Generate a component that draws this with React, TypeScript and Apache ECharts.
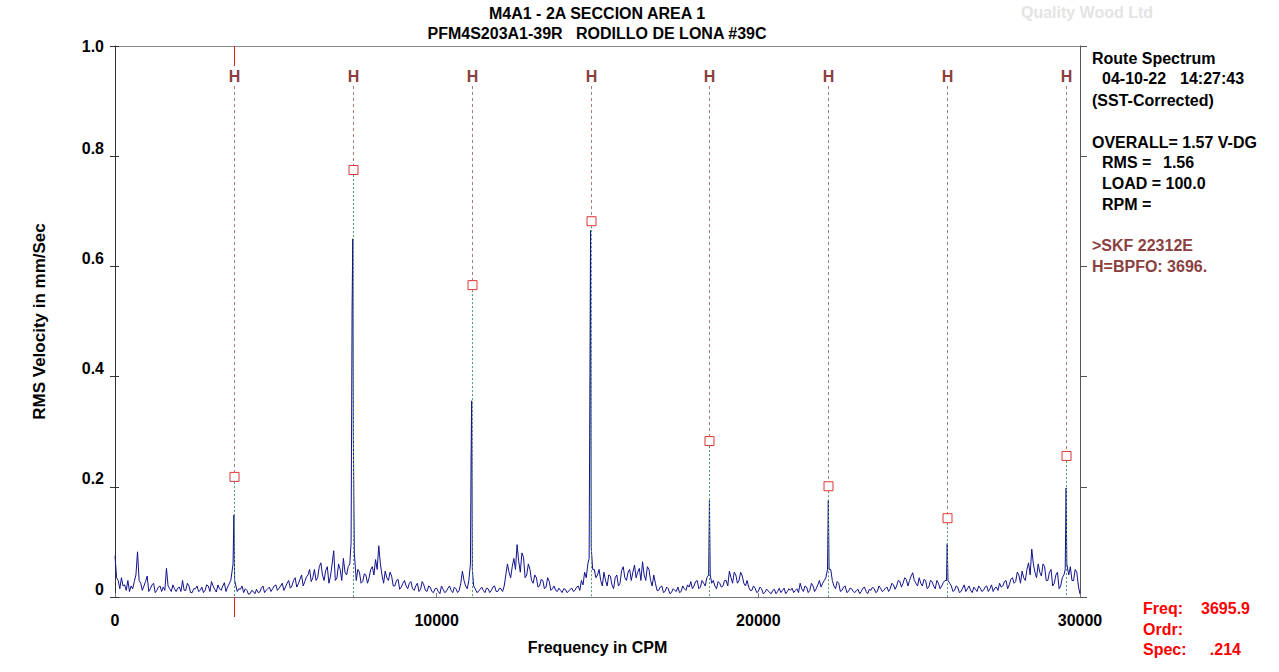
import React, { useEffect, useRef } from "react";
import * as echarts from "echarts";

// ---- data ----
const FREQ_STEP = 100; // CPM between base spectrum samples
// samples at 0, 100, 200 ... 30000 CPM
const baseSpectrum: number[] = [
  0.075, 0.03, 0.035, 0.022, 0.03, 0.02, 0.028, 0.082, 0.025, 0.02,
  0.038, 0.015, 0.025, 0.012, 0.02, 0.018, 0.052, 0.015, 0.022, 0.01,
  0.018, 0.03, 0.012, 0.02, 0.008, 0.015, 0.01, 0.018, 0.012, 0.02,
  0.028, 0.014, 0.022, 0.012, 0.026, 0.018, 0.03, 0.02, 0.01, 0.014,
  0.008, 0.012, 0.006, 0.01, 0.014, 0.009, 0.02, 0.012, 0.018, 0.015,
  0.022, 0.016, 0.025, 0.018, 0.03, 0.02, 0.035, 0.024, 0.04, 0.028,
  0.04, 0.028, 0.05, 0.035, 0.062, 0.03, 0.055, 0.038, 0.084, 0.035,
  0.05, 0.07, 0.04, 0.06, 0.05, 0.03, 0.045, 0.028, 0.04, 0.035,
  0.055, 0.068, 0.093, 0.04, 0.047, 0.03, 0.038, 0.02, 0.032, 0.018,
  0.03, 0.015, 0.028, 0.012, 0.025, 0.014, 0.022, 0.01, 0.018, 0.008,
  0.016, 0.006, 0.014, 0.01, 0.02, 0.008, 0.015, 0.012, 0.047, 0.02,
  0.03, 0.04, 0.015, 0.01, 0.018, 0.008, 0.015, 0.012, 0.02, 0.01,
  0.015, 0.02, 0.06, 0.035, 0.07, 0.095, 0.045, 0.072, 0.04, 0.05,
  0.025, 0.035, 0.02, 0.03, 0.018, 0.028, 0.015, 0.012, 0.016, 0.008,
  0.014, 0.01, 0.016, 0.012, 0.02, 0.03, 0.045, 0.06, 0.06, 0.05,
  0.04, 0.03, 0.045, 0.02, 0.038, 0.015, 0.04, 0.025, 0.055, 0.03,
  0.05, 0.045, 0.035, 0.052, 0.064, 0.03, 0.05, 0.02, 0.025, 0.012,
  0.02, 0.01, 0.015, 0.008, 0.012, 0.018, 0.01, 0.015, 0.022, 0.028,
  0.02, 0.03, 0.018, 0.025, 0.035, 0.03, 0.03, 0.015, 0.025, 0.02,
  0.03, 0.047, 0.025, 0.04, 0.03, 0.038, 0.02, 0.018, 0.012, 0.016,
  0.01, 0.015, 0.008, 0.012, 0.006, 0.014, 0.01, 0.008, 0.016, 0.01,
  0.012, 0.008, 0.015, 0.025, 0.01, 0.018, 0.012, 0.02, 0.015, 0.03,
  0.025, 0.035, 0.04, 0.03, 0.015, 0.025, 0.012, 0.02, 0.01, 0.015,
  0.008, 0.014, 0.01, 0.018, 0.006, 0.012, 0.015, 0.01, 0.016, 0.012,
  0.018, 0.015, 0.022, 0.02, 0.028, 0.025, 0.032, 0.03, 0.044, 0.025,
  0.035, 0.02, 0.03, 0.018, 0.028, 0.015, 0.025, 0.02, 0.03, 0.03,
  0.02, 0.012, 0.018, 0.01, 0.022, 0.015, 0.012, 0.018, 0.01, 0.016,
  0.012, 0.02, 0.015, 0.01, 0.018, 0.025, 0.02, 0.03, 0.022, 0.035,
  0.028, 0.04, 0.047, 0.03, 0.062, 0.087, 0.045, 0.06, 0.038, 0.055,
  0.03, 0.05, 0.025, 0.045, 0.02, 0.04, 0.06, 0.055, 0.03, 0.045,
  0.005,
];
// samples at 50, 150, 250 ... 29950 CPM
const midSpectrum: number[] = [
  0.035, 0.015, 0.02, 0.012, 0.01, 0.015, 0.04, 0.03, 0.012, 0.028,
  0.01, 0.022, 0.008, 0.018, 0.01, 0.012, 0.02, 0.01, 0.015, 0.016,
  0.01, 0.012, 0.025, 0.008, 0.015, 0.02, 0.012, 0.008, 0.022, 0.01,
  0.02, 0.009, 0.015, 0.02, 0.01, 0.024, 0.015, 0.04, 0.015, 0.02,
  0.015, 0.005, 0.012, 0.006, 0.008, 0.016, 0.008, 0.015, 0.01, 0.02,
  0.012, 0.02, 0.012, 0.025, 0.016, 0.03, 0.018, 0.032, 0.02, 0.036,
  0.05, 0.035, 0.03, 0.055, 0.04, 0.048, 0.025, 0.06, 0.03, 0.06,
  0.03, 0.045, 0.055, 0.035, 0.045, 0.05, 0.025, 0.042, 0.025, 0.05,
  0.04, 0.05, 0.06, 0.025, 0.035, 0.045, 0.02, 0.03, 0.014, 0.025,
  0.02, 0.025, 0.015, 0.02, 0.01, 0.028, 0.012, 0.02, 0.01, 0.015,
  0.01, 0.02, 0.008, 0.016, 0.012, 0.018, 0.008, 0.025, 0.03, 0.015,
  0.05, 0.02, 0.008, 0.014, 0.012, 0.016, 0.008, 0.018, 0.01, 0.016,
  0.01, 0.04, 0.045, 0.055, 0.05, 0.065, 0.08, 0.035, 0.06, 0.03,
  0.04, 0.018, 0.032, 0.015, 0.035, 0.012, 0.02, 0.01, 0.012, 0.015,
  0.008, 0.014, 0.01, 0.018, 0.012, 0.022, 0.035, 0.05, 0.05, 0.035,
  0.05, 0.02, 0.03, 0.04, 0.022, 0.035, 0.02, 0.048, 0.035, 0.045,
  0.03, 0.058, 0.045, 0.03, 0.04, 0.055, 0.03, 0.04, 0.012, 0.018,
  0.008, 0.018, 0.006, 0.015, 0.01, 0.008, 0.02, 0.012, 0.018, 0.015,
  0.028, 0.015, 0.03, 0.02, 0.03, 0.025, 0.02, 0.028, 0.018, 0.03,
  0.02, 0.035, 0.045, 0.025, 0.045, 0.025, 0.03, 0.012, 0.02, 0.008,
  0.018, 0.006, 0.014, 0.008, 0.012, 0.006, 0.016, 0.012, 0.006, 0.015,
  0.016, 0.012, 0.008, 0.015, 0.02, 0.008, 0.025, 0.01, 0.022, 0.018,
  0.03, 0.04, 0.05, 0.02, 0.028, 0.01, 0.018, 0.008, 0.016, 0.01,
  0.012, 0.006, 0.016, 0.01, 0.014, 0.018, 0.008, 0.02, 0.01, 0.016,
  0.01, 0.025, 0.014, 0.03, 0.018, 0.035, 0.02, 0.038, 0.03, 0.02,
  0.025, 0.032, 0.015, 0.03, 0.02, 0.03, 0.015, 0.026, 0.03, 0.025,
  0.01, 0.02, 0.008, 0.016, 0.01, 0.02, 0.008, 0.014, 0.02, 0.01,
  0.018, 0.01, 0.022, 0.016, 0.012, 0.018, 0.028, 0.015, 0.032, 0.025,
  0.045, 0.025, 0.035, 0.05, 0.04, 0.06, 0.035, 0.045, 0.06, 0.03,
  0.045, 0.02, 0.04, 0.015, 0.035, 0.05, 0.04, 0.03, 0.05, 0.02,
];

const peakFreqs: number[] = [
  3670, 3696, 3720,
  7340, 7370, 7392, 7410, 7440,
  11050, 11070, 11088, 11110,
  14740, 14765, 14784, 14805,
  18455, 18480, 18505,
  22150, 22176, 22200,
  25850, 25872, 25895,
  29540, 29568, 29590,
];
const peakAmps: number[] = [
  0.06, 0.149, 0.03,
  0.1, 0.52, 0.65, 0.29, 0.08,
  0.06, 0.256, 0.356, 0.05,
  0.07, 0.407, 0.665, 0.09,
  0.04, 0.175, 0.04,
  0.05, 0.175, 0.05,
  0.03, 0.097, 0.03,
  0.05, 0.198, 0.06,
];

const harmonicFreqs: number[] = [3696, 7392, 11088, 14784, 18480, 22176, 25872, 29568];
const harmonicMarks: number[] = [0.218, 0.775, 0.566, 0.682, 0.283, 0.201, 0.143, 0.256];

const yTicks: string[] = ["0", "0.2", "0.4", "0.6", "0.8", "1.0"];

const FONT = '"Liberation Sans", Arial, sans-serif';

function buildSpectrum(): [number, number][] {
  const pts: [number, number][] = [];
  const add = (f: number, v: number) => {
    if (peakFreqs.some((p) => Math.abs(p - f) < 35)) return;
    pts.push([f, v]);
  };
  baseSpectrum.forEach((v, i) => add(i * FREQ_STEP, v));
  midSpectrum.forEach((v, i) => add(i * FREQ_STEP + FREQ_STEP / 2, v));
  peakFreqs.forEach((f, i) => pts.push([f, peakAmps[i]]));
  pts.sort((a, b) => a[0] - b[0]);
  return pts;
}

function txt(text: string, x: number, y: number, opts: any = {}) {
  const align = opts.align || "left";
  return {
    type: "text",
    x,
    y,
    silent: true,
    style: {
      text,
      fill: opts.fill || "#000",
      font: `bold ${opts.size || 16}px ${FONT}`,
      textAlign: align,
      align,
      textVerticalAlign: "middle",
      verticalAlign: "middle",
    },
  };
}

export default function App() {
  const ref = useRef<HTMLDivElement>(null);
  useEffect(() => {
    if (!ref.current) return;
    const chart = echarts.init(ref.current, null, { renderer: "svg" });
    const spectrum = buildSpectrum();
    const harm = harmonicFreqs.map((f, i) => [f, harmonicMarks[i]]);
    const brown = "#8B3F3F";

    const yLabelFmt = (v: number) => {
      const idx = Math.round(v * 5);
      const s = yTicks[idx];
      return idx === 5 ? `{t|${s}}` : `{s|${s}}`;
    };

    const option: any = {
      animation: false,
      backgroundColor: "#fff",
      grid: { left: 115, right: 199, top: 46, bottom: 75 },
      xAxis: [
        {
          type: "value",
          min: 0,
          max: 30000,
          interval: 10000,
          name: "Frequency in CPM",
          nameLocation: "middle",
          nameGap: 42,
          nameTextStyle: { fontFamily: FONT, fontWeight: "bold", fontSize: 16, color: "#000" },
          axisLine: { show: true, onZero: false, lineStyle: { color: "#777", width: 1 } },
          axisTick: { show: true, inside: true, length: 4, lineStyle: { color: "#777" } },
          axisLabel: {
            margin: 15,
            fontFamily: FONT,
            fontWeight: "bold",
            fontSize: 16,
            color: "#000",
            formatter: (v: number) => String(v),
          },
          splitLine: { show: false },
        },
        {
          type: "value",
          position: "top",
          min: 0,
          max: 30000,
          interval: 10000,
          axisLine: { show: true, onZero: false, lineStyle: { color: "#888", width: 1 } },
          axisTick: { show: false },
          axisLabel: { show: false },
          splitLine: { show: false },
        },
      ],
      yAxis: [
        {
          type: "value",
          min: 0,
          max: 1,
          interval: 0.2,
          name: "RMS Velocity in mm/Sec",
          nameLocation: "middle",
          nameGap: 67,
          nameRotate: 90,
          nameTextStyle: { fontFamily: FONT, fontWeight: "bold", fontSize: 17, color: "#000" },
          axisLine: { show: true, onZero: false, lineStyle: { color: "#333", width: 1 } },
          axisTick: { show: true, length: 5, lineStyle: { color: "#333" } },
          axisLabel: {
            margin: 11,
            formatter: yLabelFmt,
            rich: {
              t: { fontFamily: FONT, fontWeight: "bold", fontSize: 16, color: "#000" },
              s: { fontFamily: FONT, fontWeight: "bold", fontSize: 16, color: "#000", padding: [0, 0, 16, 0] },
            },
          },
          splitLine: { show: false },
        },
        {
          type: "value",
          position: "right",
          min: 0,
          max: 1,
          interval: 0.2,
          axisLine: { show: true, onZero: false, lineStyle: { color: "#555", width: 1 } },
          axisTick: { show: true, length: 7, lineStyle: { color: "#555" } },
          axisLabel: { show: false },
          splitLine: { show: false },
        },
        {
          type: "value",
          position: "left",
          min: 0,
          max: 1,
          interval: 0.2,
          axisLine: { show: false },
          axisTick: { show: true, inside: true, length: 4, lineStyle: { color: "#333" } },
          axisLabel: { show: false },
          splitLine: { show: false },
        },
      ],
      series: [
        {
          type: "line",
          data: spectrum,
          symbol: "none",
          lineStyle: { color: "#12128C", width: 1 },
          z: 2,
        },
        {
          type: "custom",
          data: harm,
          clip: false,
          z: 3,
          renderItem: (params: any, api: any) => {
            const f = api.value(0);
            const a = api.value(1);
            const top = api.coord([f, 1]);
            const sq = api.coord([f, a]);
            const base = api.coord([f, 0]);
            const x = Math.round(top[0]) + 0.5;
            const children: any[] = [
              {
                type: "text",
                x,
                y: top[1] + 30,
                style: {
                  text: "H",
                  fill: brown,
                  font: `bold 16px ${FONT}`,
                  align: "center",
                  verticalAlign: "middle",
                },
              },
              {
                type: "line",
                shape: { x1: x, y1: top[1] + 40, x2: x, y2: sq[1] - 5 },
                style: { stroke: "#A87A7A", lineWidth: 1, lineDash: [3, 3] },
              },
              {
                type: "line",
                shape: { x1: x, y1: sq[1] + 5, x2: x, y2: base[1] },
                style: { stroke: "#4E9A72", lineWidth: 1, lineDash: [2, 2] },
              },
              {
                type: "rect",
                shape: { x: x - 4.5, y: sq[1] - 4.5, width: 9, height: 9 },
                style: { fill: "rgba(255,255,255,0)", stroke: "#E23434", lineWidth: 1 },
              },
            ];
            if (params.dataIndex === 0) {
              children.push(
                {
                  type: "line",
                  shape: { x1: x, y1: top[1], x2: x, y2: top[1] + 20 },
                  style: { stroke: "#E02020", lineWidth: 1 },
                },
                {
                  type: "line",
                  shape: { x1: x, y1: base[1], x2: x, y2: base[1] + 20 },
                  style: { stroke: "#E02020", lineWidth: 1 },
                }
              );
            }
            return { type: "group", children };
          },
        },
      ],
      graphic: [
        txt("M4A1 - 2A SECCION AREA 1", 597, 13, { align: "center", size: 16 }),
        txt("PFM4S203A1-39R   RODILLO DE LONA #39C", 597, 33, { align: "center", size: 16 }),
        txt("Quality Wood Ltd", 1087, 12, { align: "center", size: 16, fill: "#E4E4E4" }),
        txt("Route Spectrum", 1092, 58),
        txt("04-10-22", 1102, 78),
        txt("14:27:43", 1180, 78),
        txt("(SST-Corrected)", 1092, 100),
        txt("OVERALL= 1.57 V-DG", 1092, 142),
        txt("RMS =", 1102, 162),
        txt("1.56", 1163, 162),
        txt("LOAD = 100.0", 1102, 183),
        txt("RPM =", 1102, 204),
        txt(">SKF 22312E", 1092, 245, { fill: brown }),
        txt("H=BPFO: 3696.", 1092, 266, { fill: brown }),
        txt("Freq:", 1143, 608, { fill: "#FF0000" }),
        txt("3695.9", 1250, 608, { fill: "#FF0000", align: "right" }),
        txt("Ordr:", 1143, 629, { fill: "#FF0000" }),
        txt("Spec:", 1143, 649, { fill: "#FF0000" }),
        txt(".214", 1241, 649, { fill: "#FF0000", align: "right" }),
      ],
    };
    chart.setOption(option);
    return () => chart.dispose();
  }, []);
  return (
    <div
      ref={ref}
      style={{ position: "fixed", left: 0, top: 0, width: 1279, height: 672, background: "#fff" }}
    />
  );
}
